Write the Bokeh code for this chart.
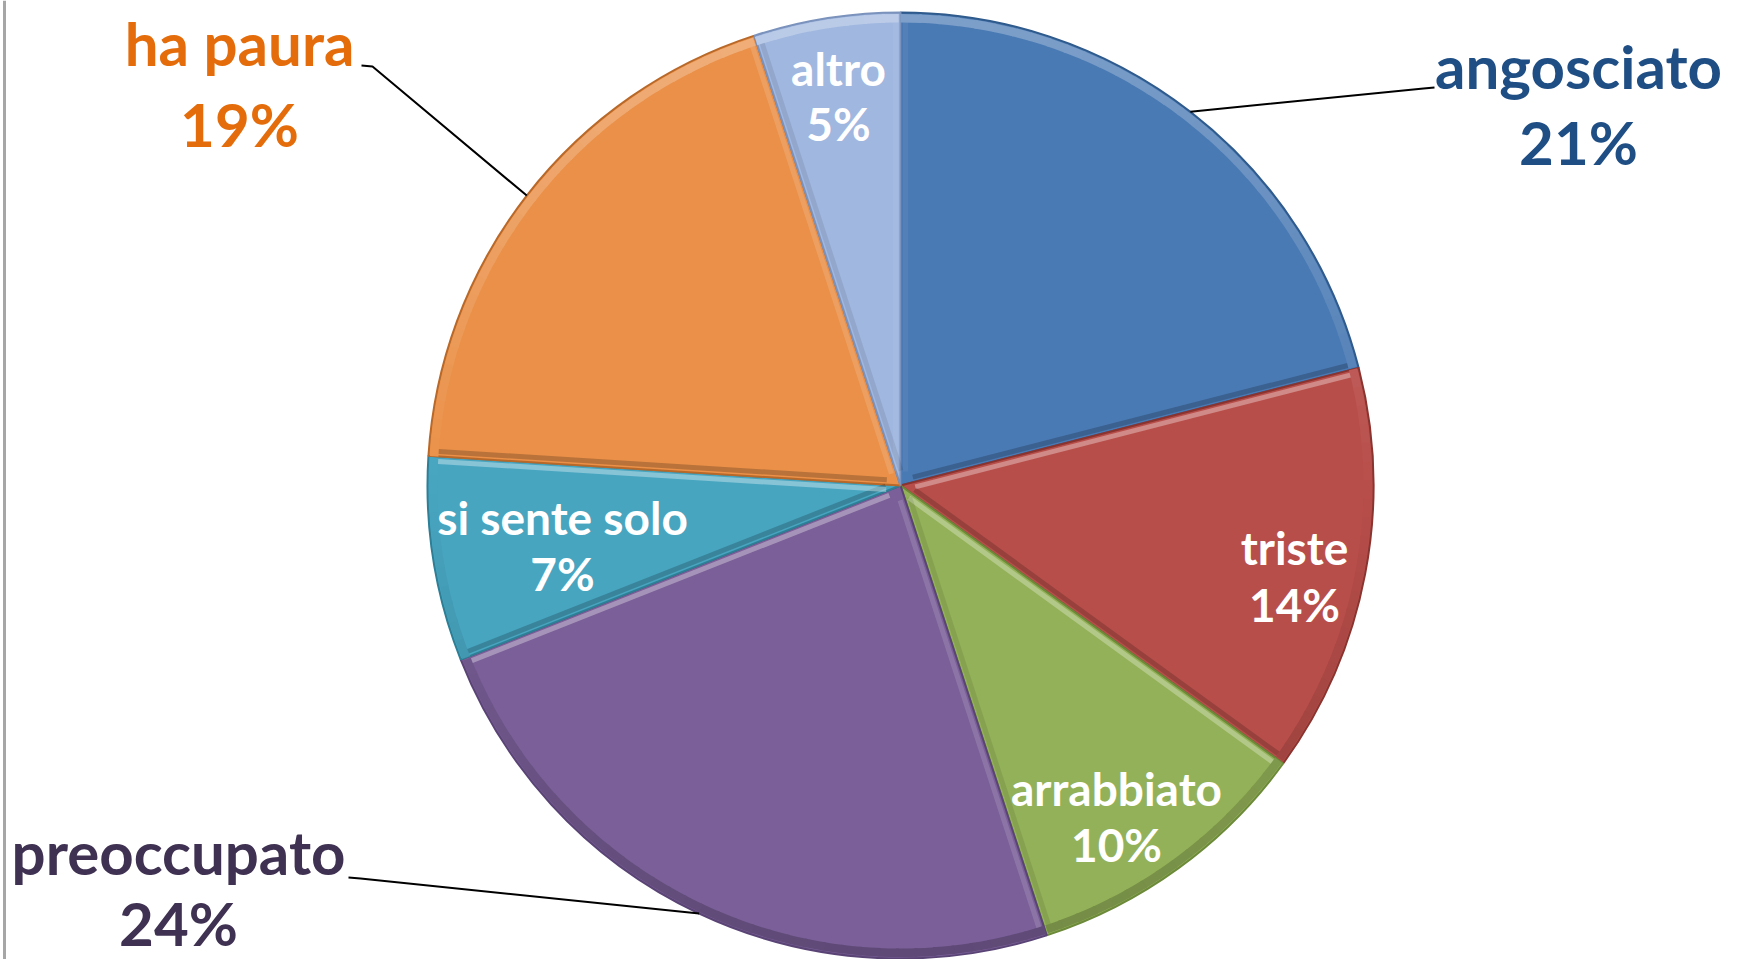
import math
from bokeh.plotting import figure
from bokeh.models import Range1d, Span
from bokeh.core.properties import value
from bokeh.embed import file_html
from bokeh.resources import INLINE

# ---- data ----
categories = ["angosciato", "triste", "arrabbiato", "preoccupato", "si sente solo", "ha paura", "altro"]
values = [21, 14, 10, 24, 7, 19, 5]
slice_colors = ["#4A7AB4", "#B84E4A", "#93B158", "#7A5F98", "#47A5C0", "#EA9048", "#A0B7DF"]
edge_colors = ["#2F5A8C", "#8A3430", "#6C8A3A", "#5A4476", "#2E7F96", "#B8692A", "#7A92BC"]

# ---- layout (pixel coords, origin top-left) ----
W, H = 1757, 959
CX, CY, R = 900, 485, 473
FONT = "Lato"

# label layout: (x_center, baseline line1, baseline line2, font size, colour, leader anchor, elbow)
label_layout = {
    "angosciato":    (1578, 65, 141, 60, "#1F4E85", (1434, 87), (1423, 88)),
    "triste":        (1294, 547, 604, 46, "white", None, None),
    "arrabbiato":    (1116, 788, 844, 46, "white", None, None),
    "preoccupato":   (178, 851, 922, 60, "#3F3151", (348, 877), (360, 878)),
    "si sente solo": (562, 517, 573, 46, "white", None, None),
    "ha paura":      (239, 42, 123, 60, "#E46C0A", (361, 65), (372, 66)),
    "altro":         (838, 68, 123, 46, "white", None, None),
}


def fy(y):
    return H - y


def mix(hexcol, target, t):
    c = [int(hexcol[i:i + 2], 16) for i in (1, 3, 5)]
    g = 255 if target == "white" else 0
    c = [round(ch + (g - ch) * t) for ch in c]
    return "#%02x%02x%02x" % tuple(c)


p = figure(width=W, height=H, output_backend="svg", toolbar_location=None,
           x_range=Range1d(0, W), y_range=Range1d(0, H), min_border=0,
           background_fill_color="white", border_fill_color="white")
p.axis.visible = False
p.grid.visible = False
p.outline_line_color = None

# left border line
p.add_layout(Span(location=4, dimension="height", line_color="#A6A6A6", line_width=3))

total = sum(values)
cum = 0.0
starts, ends, mids = [], [], []
for v in values:
    a0 = math.pi / 2 - 2 * math.pi * cum / total
    cum += v
    a1 = math.pi / 2 - 2 * math.pi * cum / total
    starts.append(a0)
    ends.append(a1)
    mids.append((a0 + a1) / 2)

ccx, ccy = CX, fy(CY)

# slices
p.wedge(x=[ccx] * len(values), y=[ccy] * len(values), radius=R,
        start_angle=starts, end_angle=ends, direction="clock",
        fill_color=slice_colors, line_color=edge_colors, line_width=2)

# bevel: rim shading (light at top, dark at bottom), opaque overlapping segments
for a0, a1, col in zip(starts, ends, slice_colors):
    n = max(3, int((a0 - a1) / (2 * math.pi) * 160))
    for k in range(n):
        b0 = a0 - (a0 - a1) * k / n
        b1 = a0 - (a0 - a1) * (k + 1) / n
        s = math.sin((b0 + b1) / 2)
        if s > 0:
            seg_col = mix(col, "white", 0.28 * s)
        else:
            seg_col = mix(col, "black", 0.22 * (-s))
        e = b1 - 0.006 if k < n - 1 else b1 + 0.004
        p.annular_wedge(x=[ccx], y=[ccy], inner_radius=R - 10, outer_radius=R - 1.5,
                        start_angle=b0, end_angle=e, direction="clock",
                        fill_color=seg_col, line_color=None)

# bevel: radial edges (light when facing up, dark when facing down)
for a0, a1 in zip(starts, ends):
    for a, (nx, ny) in ((a0, (math.sin(a0), -math.cos(a0))), (a1, (-math.sin(a1), math.cos(a1)))):
        off = 5
        xs = [ccx + 14 * math.cos(a) + nx * off, ccx + (R - 10) * math.cos(a) + nx * off]
        ys = [ccy + 14 * math.sin(a) + ny * off, ccy + (R - 10) * math.sin(a) + ny * off]
        if ny < 0:
            p.line(x=xs, y=ys, line_color="white", line_alpha=0.30 * (-ny) + 0.05, line_width=5)
        else:
            p.line(x=xs, y=ys, line_color="black", line_alpha=0.18 * ny + 0.03, line_width=5)

# labels and leader lines
for cat, v, mid in zip(categories, values, mids):
    xc, b1, b2, fs, col, anchor, elbow = label_layout[cat]
    p.text(x=[xc], y=[fy(b1)], text=[cat], text_align="center", text_baseline="alphabetic",
           text_font=value(FONT), text_font_style="bold", text_font_size=f"{fs}px", text_color=col)
    p.text(x=[xc], y=[fy(b2)], text=[f"{v}%"], text_align="center", text_baseline="alphabetic",
           text_font=value(FONT), text_font_style="bold", text_font_size=f"{fs}px", text_color=col)
    if anchor is not None:
        ex = ccx + R * math.cos(mid)
        ey = ccy + R * math.sin(mid)
        p.line(x=[ex, elbow[0], anchor[0]], y=[ey, fy(elbow[1]), fy(anchor[1])],
               line_color="black", line_width=2)

open("out.html", "w").write(file_html(p, INLINE))
